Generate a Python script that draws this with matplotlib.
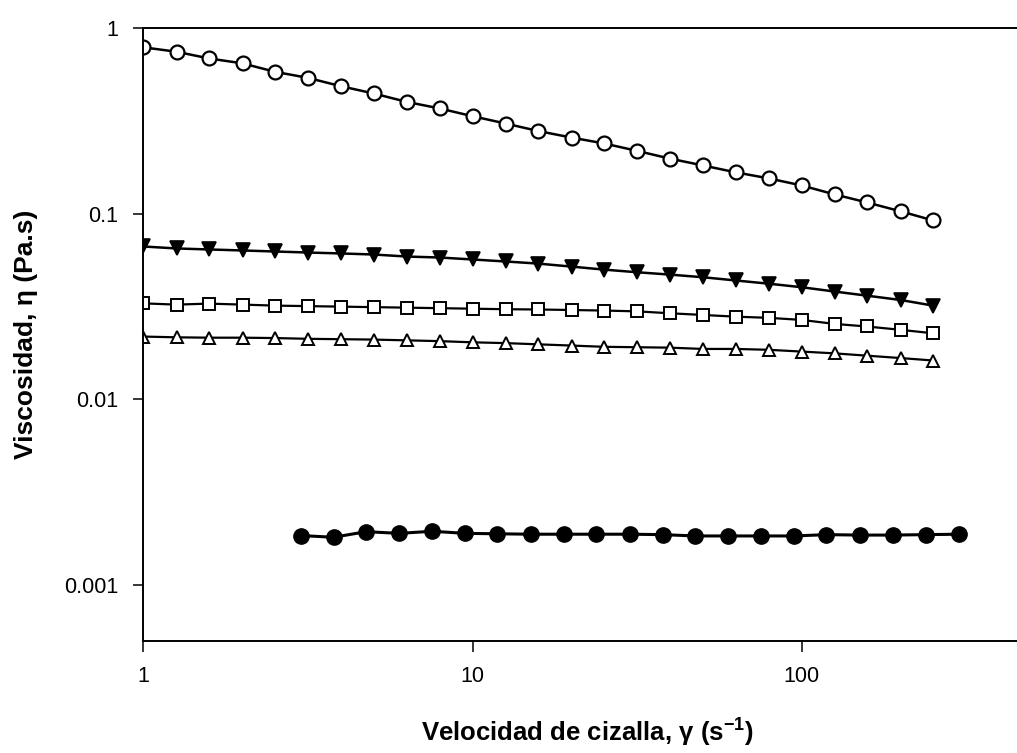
import numpy as np
import matplotlib
matplotlib.use('Agg')
import matplotlib.pyplot as plt
from matplotlib.ticker import FixedLocator, NullLocator

plt.rcParams['font.family'] = ['Liberation Sans', 'DejaVu Sans']
plt.rcParams['mathtext.fontset'] = 'custom'
plt.rcParams['mathtext.rm'] = 'Liberation Sans'
plt.rcParams['mathtext.bf'] = 'Liberation Sans:bold'

# shear rate (s^-1)
shear = [1.0, 1.26, 1.58, 2.0, 2.51, 3.16, 3.98, 5.01, 6.31, 7.94, 10.0, 12.6, 15.8,
         20.0, 25.1, 31.6, 39.8, 50.1, 63.1, 79.4, 100.0, 126.0, 158.0, 200.0, 251.0]
shear_water = [3.0, 3.78, 4.75, 5.99, 7.54, 9.49, 11.9, 15.0, 18.9, 23.8, 30.0, 37.8,
               47.5, 59.9, 75.4, 94.9, 119.0, 150.0, 189.0, 238.0, 300.0]

# viscosity (Pa.s)
visc_open_circle = [0.787, 0.745, 0.686, 0.645, 0.581, 0.539, 0.486, 0.444, 0.400, 0.369,
                    0.335, 0.306, 0.279, 0.257, 0.239, 0.218, 0.198, 0.182, 0.167, 0.155,
                    0.142, 0.127, 0.115, 0.103, 0.092]
visc_down_tri = [0.0666, 0.0650, 0.0642, 0.0634, 0.0626, 0.0618, 0.0611, 0.0603, 0.0588,
                 0.0581, 0.0567, 0.0553, 0.0539, 0.0519, 0.0500, 0.0484, 0.0470, 0.0455,
                 0.0437, 0.0420, 0.0402, 0.0381, 0.0362, 0.0343, 0.0320]
visc_square = [0.0329, 0.0324, 0.0328, 0.0324, 0.0320, 0.0318, 0.0316, 0.0314, 0.0312,
               0.0310, 0.0308, 0.0306, 0.0305, 0.0303, 0.0301, 0.0298, 0.0291, 0.0285,
               0.0279, 0.0275, 0.0268, 0.0255, 0.0247, 0.0237, 0.0227]
visc_up_tri = [0.0218, 0.0216, 0.0215, 0.0215, 0.0214, 0.0212, 0.0211, 0.0210, 0.0208,
               0.0206, 0.0203, 0.0201, 0.0198, 0.0195, 0.0192, 0.0191, 0.0190, 0.0187,
               0.0187, 0.0185, 0.0181, 0.0177, 0.0172, 0.0167, 0.0162]
visc_water = [0.00185, 0.00181, 0.00194, 0.00190, 0.00195, 0.00190, 0.00189, 0.00188,
              0.00188, 0.00188, 0.00188, 0.00187, 0.00184, 0.00184, 0.00184, 0.00184,
              0.00187, 0.00186, 0.00186, 0.00187, 0.00188]

fig = plt.figure(figsize=(10.17, 7.53), dpi=100)
ax = fig.add_axes([0.1411, 0.1487, 0.8733, 0.8141])

ax.plot(shear, visc_open_circle, '-o', color='black', lw=1.8, ms=10,
        mfc='white', mec='black', mew=1.6)
ax.plot(shear, visc_down_tri, '-v', color='black', lw=1.8, ms=10,
        mfc='black', mec='black', mew=1.2)
ax.plot(shear, visc_square, '-s', color='black', lw=1.6, ms=8.5,
        mfc='white', mec='black', mew=1.4)
ax.plot(shear, visc_up_tri, '-^', color='black', lw=1.6, ms=9,
        mfc='white', mec='black', mew=1.4)
ax.plot(shear_water, visc_water, '-o', color='black', lw=2.2, ms=11,
        mfc='black', mec='black')

ax.set_xscale('log')
ax.set_yscale('log')
ax.set_xlim(1, 500)
ax.set_ylim(0.0005, 1)

ax.xaxis.set_major_locator(FixedLocator([1, 10, 100]))
ax.set_xticklabels(['1', '10', '100'])
ax.yaxis.set_major_locator(FixedLocator([0.001, 0.01, 0.1, 1]))
ax.set_yticklabels(['0.001', '0.01', '0.1', '1'])
ax.xaxis.set_minor_locator(NullLocator())
ax.yaxis.set_minor_locator(NullLocator())

ax.tick_params(axis='x', direction='out', length=8, width=1.1, pad=10, labelsize=15.5)
ax.tick_params(axis='y', direction='out', length=7, width=1.1, pad=11, labelsize=15.5)
ax.tick_params(top=False, right=False)

for side in ['left', 'bottom', 'top']:
    ax.spines[side].set_linewidth(1.4)
    ax.spines[side].set_color('black')
ax.spines['right'].set_visible(False)

ax.set_xlabel(r'Velocidad de cizalla, γ (s$^{\mathbf{-1}}$)', fontsize=18.5,
              fontweight='bold', labelpad=20)
ax.set_ylabel('Viscosidad, η (Pa.s)', fontsize=19, fontweight='bold', labelpad=19)

fig.savefig('out.png', dpi=100)
